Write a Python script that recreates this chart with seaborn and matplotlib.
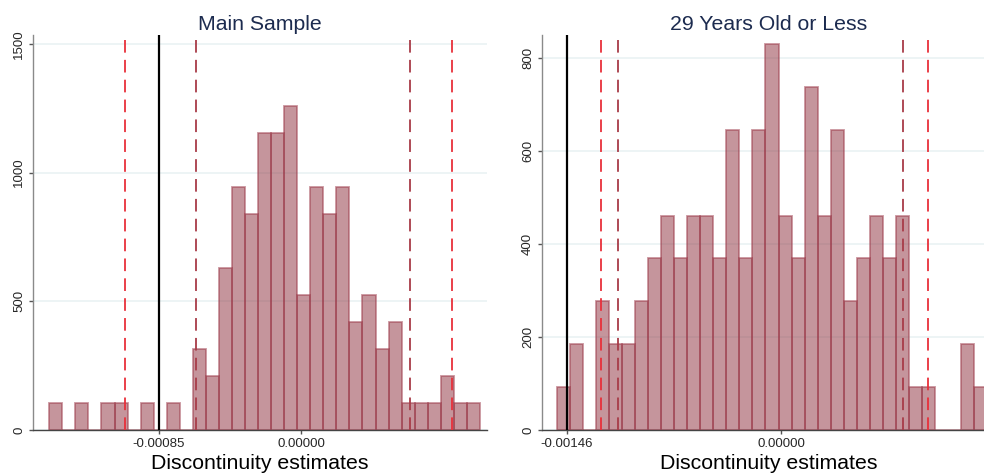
import numpy as np
import pandas as pd
import matplotlib
matplotlib.use('Agg')
import matplotlib.pyplot as plt
import seaborn as sns

# Main sample: histogram of discontinuity estimates (bin counts)
main_start = -0.0015067
main_width = 7.81e-5
main_counts = [1, 0, 1, 0, 1, 1, 0, 1, 0, 1, 0, 3, 2, 6, 9, 8, 11,
               11, 12, 5, 9, 8, 9, 4, 5, 3, 4, 1, 1, 1, 2, 1, 1]
main_est = -0.00085
main_inner = [-0.000628, 0.000654]
main_outer = [-0.001052, 0.000902]
main_xticks = [-0.00085, 0.0]
main_yticks = [0, 500, 1000, 1500]

# 29 years old or less
young_start = -0.001528
young_width = 8.89e-5
young_counts = [1, 2, 0, 3, 2, 2, 3, 4, 5, 4, 5, 5, 4, 7, 4, 7, 9,
                5, 4, 8, 5, 7, 3, 4, 5, 4, 5, 1, 1, 0, 0, 2, 1]
young_est = -0.00146
young_inner = [-0.001113, 0.000831]
young_outer = [-0.001224, 0.000999]
young_xticks = [-0.00146, 0.0]
young_yticks = [0, 200, 400, 600, 800]

sns.set_theme(style='white')
plt.rcParams['font.family'] = ['Liberation Sans', 'DejaVu Sans']

fig = plt.figure(figsize=(9.84, 4.75), dpi=100)

BAR = '#8c2d3a'
EDGE = (0.62, 0.24, 0.30, 0.55)
BRIGHT = '#e8303a'
DARK = '#a83c48'


def panel(ax, start, width, counts, est, inner, outer, xticks, yticks,
          xlim, ylim, title):
  nb = len(counts)
  lo, hi = start, start + width * nb
  centers = lo + width * (np.arange(nb) + 0.5)
  df = pd.DataFrame({'est': centers, 'n': counts})
  sns.histplot(data=df, x='est', weights='n', bins=nb, binrange=(lo, hi),
               stat='density', color=BAR, alpha=0.5, linewidth=1.3, ax=ax)
  for p in ax.patches:
    p.set_edgecolor(EDGE)
  ax.axvline(est, color='black', lw=1.6, zorder=5)
  for v in inner:
    ax.axvline(v, color=DARK, lw=1.3, ls=(0, (7, 4)), zorder=5)
  for v in outer:
    ax.axvline(v, color=BRIGHT, lw=1.3, ls=(0, (7, 4)), zorder=5)
  ax.set_xlim(*xlim)
  ax.set_ylim(*ylim)
  ax.set_xticks(xticks)
  ax.set_xticklabels(['%.5f' % t for t in xticks], fontsize=9.5)
  ax.set_yticks(yticks)
  ax.set_yticklabels([str(t) for t in yticks], fontsize=9.5,
                     rotation=90, va='center')
  ax.yaxis.grid(True, color='#eaf2f4', lw=1.2)
  ax.set_axisbelow(True)
  ax.tick_params(axis='both', length=3, width=1, color='#555555', pad=2.5,
                 bottom=True, left=True)
  for s in ['top', 'right']:
    ax.spines[s].set_visible(False)
  ax.spines['left'].set_color('#8a8a8a')
  ax.spines['bottom'].set_color('#444444')
  ax.spines['left'].set_linewidth(1.0)
  ax.spines['bottom'].set_linewidth(1.0)
  ax.set_ylabel('')
  ax.set_xlabel('Discontinuity estimates', fontsize=15.3, color='black',
                labelpad=3)
  ax.set_title(title, fontsize=15.3, color='#1c2b4f', pad=3.5)


ax1 = fig.add_axes([33 / 984, 45 / 475, 454 / 984, 395 / 475])
panel(ax1, main_start, main_width, main_counts, main_est, main_inner,
      main_outer, main_xticks, main_yticks, (-0.001604, 0.001113),
      (0, 1534), 'Main Sample')

ax2 = fig.add_axes([541.7 / 984, 45 / 475, 454 / 984, 395 / 475])
panel(ax2, young_start, young_width, young_counts, young_est, young_inner,
      young_outer, young_xticks, young_yticks, (-0.00163, 0.001463),
      (0, 849), '29 Years Old or Less')

fig.savefig('out.png', dpi=100)
